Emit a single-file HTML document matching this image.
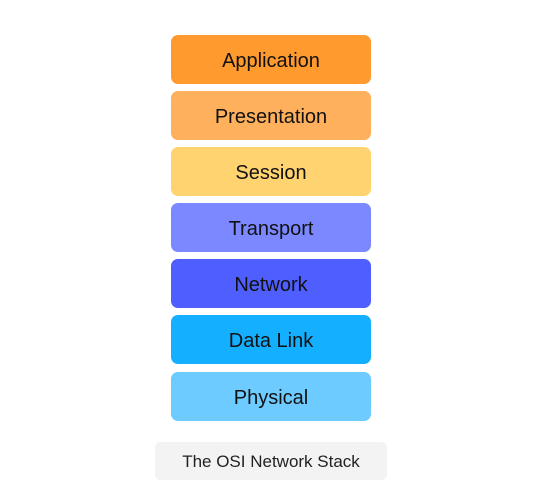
<!DOCTYPE html>
<html><head><style>
html,body{margin:0;padding:0;background:#fff;width:543px;height:501px;overflow:hidden;position:relative;font-family:"Liberation Sans",sans-serif;}
.b{position:absolute;left:171px;width:200px;height:49px;border-radius:7px;color:#111;font-size:20px;text-align:center;line-height:53px;}
.c{position:absolute;left:155px;top:442px;width:232px;height:38px;border-radius:5px;background:#f3f3f3;color:#222;font-size:17px;text-align:center;line-height:39px;}
</style></head><body>
<div class="b" style="top:35px;background:#ff9a2e">Application</div>
<div class="b" style="top:91px;background:#ffb05c">Presentation</div>
<div class="b" style="top:147px;background:#ffd470">Session</div>
<div class="b" style="top:203px;background:#7b88ff">Transport</div>
<div class="b" style="top:259px;background:#4f5eff">Network</div>
<div class="b" style="top:315px;background:#14b0ff">Data Link</div>
<div class="b" style="top:372px;background:#6ecbff">Physical</div>
<div class="c">The OSI Network Stack</div>
</body></html>
